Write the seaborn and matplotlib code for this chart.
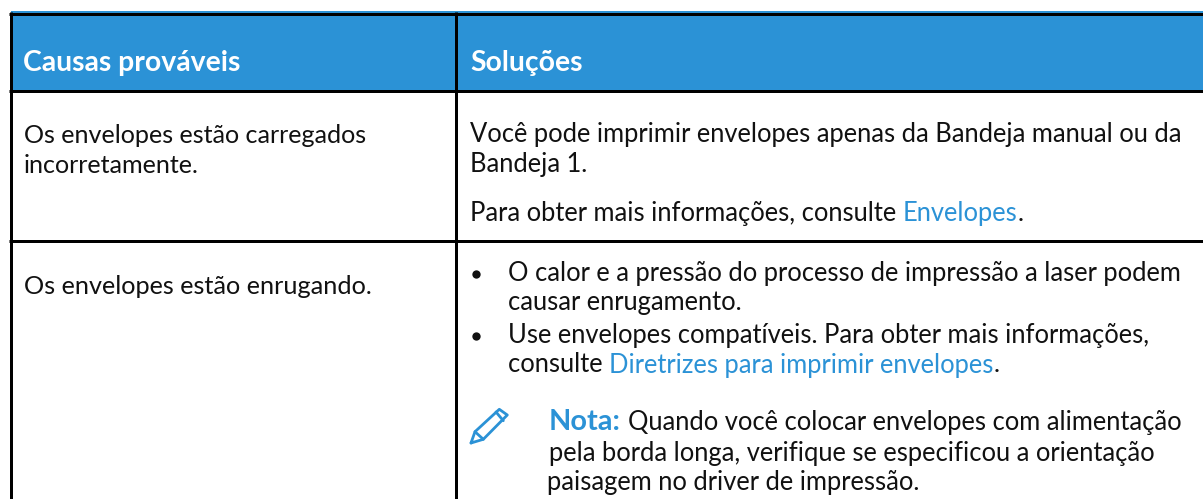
import matplotlib
matplotlib.use("Agg")
import matplotlib.pyplot as plt
import seaborn as sns
from matplotlib.patches import Rectangle

sns.set_theme(style="white")
plt.rcParams['font.family'] = ['Lato', 'DejaVu Sans']

W, H = 1203, 499
BLUE = "#2B92D6"
BLACK = "#000000"
TEXT = "#111111"

headers = ["Causas prováveis", "Soluções"]
causes = ["Os envelopes estão carregados", "incorretamente.", "Os envelopes estão enrugando."]
sol_1 = ["Você pode imprimir envelopes apenas da Bandeja manual ou da", "Bandeja 1."]
link_1 = ["Para obter mais informações, consulte ", "Envelopes", "."]
bul_1 = ["O calor e a pressão do processo de impressão a laser podem", "causar enrugamento."]
bul_2 = ["Use envelopes compatíveis. Para obter mais informações,"]
link_2 = ["consulte ", "Diretrizes para imprimir envelopes", "."]
note_head = "Nota:"
note_lines = ["Quando você colocar envelopes com alimentação", "pela borda longa, verifique se especificou a orientação", "paisagem no driver de impressão."]

fig = plt.figure(figsize=(W/100, H/100), dpi=100, facecolor="white")
ax = fig.add_axes([0, 0, 1, 1])
ax.set_xlim(0, W); ax.set_ylim(H, 0); ax.axis("off")

X0, X1, X2 = 10.5, 455.5, 1203
Y0, Y1, Y2 = 13.5, 91, 240.5

ax.add_patch(Rectangle((X0, Y0-2.5), X2-X0, Y1-Y0+2.5, fc=BLUE, ec="none"))
lw = 3*0.72
for y in (Y0, Y1, Y2):
    ax.plot([X0-1.5, X2], [y, y], color=BLACK, lw=lw, solid_capstyle="butt")
for x in (X0, X1):
    ax.plot([x, x], [Y0-1.5, H], color=BLACK, lw=lw, solid_capstyle="butt")

FS = 18.4
def put(x, y, s, **k):
    k.setdefault("fontsize", FS); k.setdefault("color", TEXT)
    return ax.text(x, y, s, va="baseline", ha="left", **k)

def run(x, y, parts, colors):
    r = fig.canvas.get_renderer()
    for s, c in zip(parts, colors):
        t = put(x, y, s, color=c)
        x = t.get_window_extent(r).x1

put(23, 70.5, headers[0], color="white", fontweight="bold", fontsize=20.4)
put(470, 70.5, headers[1], color="white", fontweight="bold", fontsize=20.4)
put(24, 143, causes[0], fontsize=18.1); put(24, 173, causes[1], fontsize=18.1)
put(24, 294, causes[2], fontsize=18.2)

put(470, 142, sol_1[0]); put(470, 172, sol_1[1])
run(470, 221, link_1, [TEXT, BLUE, TEXT])

ax.scatter([475.5, 475.5], [273.7, 335.7], s=36, color=TEXT, linewidths=0)
put(508, 281, bul_1[0]); put(508, 310, bul_1[1])
put(508, 343, bul_2[0]); run(508, 372.5, link_2, [TEXT, BLUE, TEXT])

put(549, 430, note_head, color=BLUE, fontweight="bold", fontsize=20.8)
put(628, 430, note_lines[0])
put(549, 461, note_lines[1]); put(547, 490, note_lines[2])

# pencil icon
px = [471, 475, 499.3, 507.3, 483.3, 471]
py = [443, 431.7, 409.3, 415, 439.3, 443]
ax.plot(px, py, color=BLUE, lw=2.0)
ax.plot([475, 483.3], [431.7, 439.3], color=BLUE, lw=2.0)
ax.plot([496, 503.3], [412, 420.7], color=BLUE, lw=2.0)

fig.savefig("out.png", dpi=100)
